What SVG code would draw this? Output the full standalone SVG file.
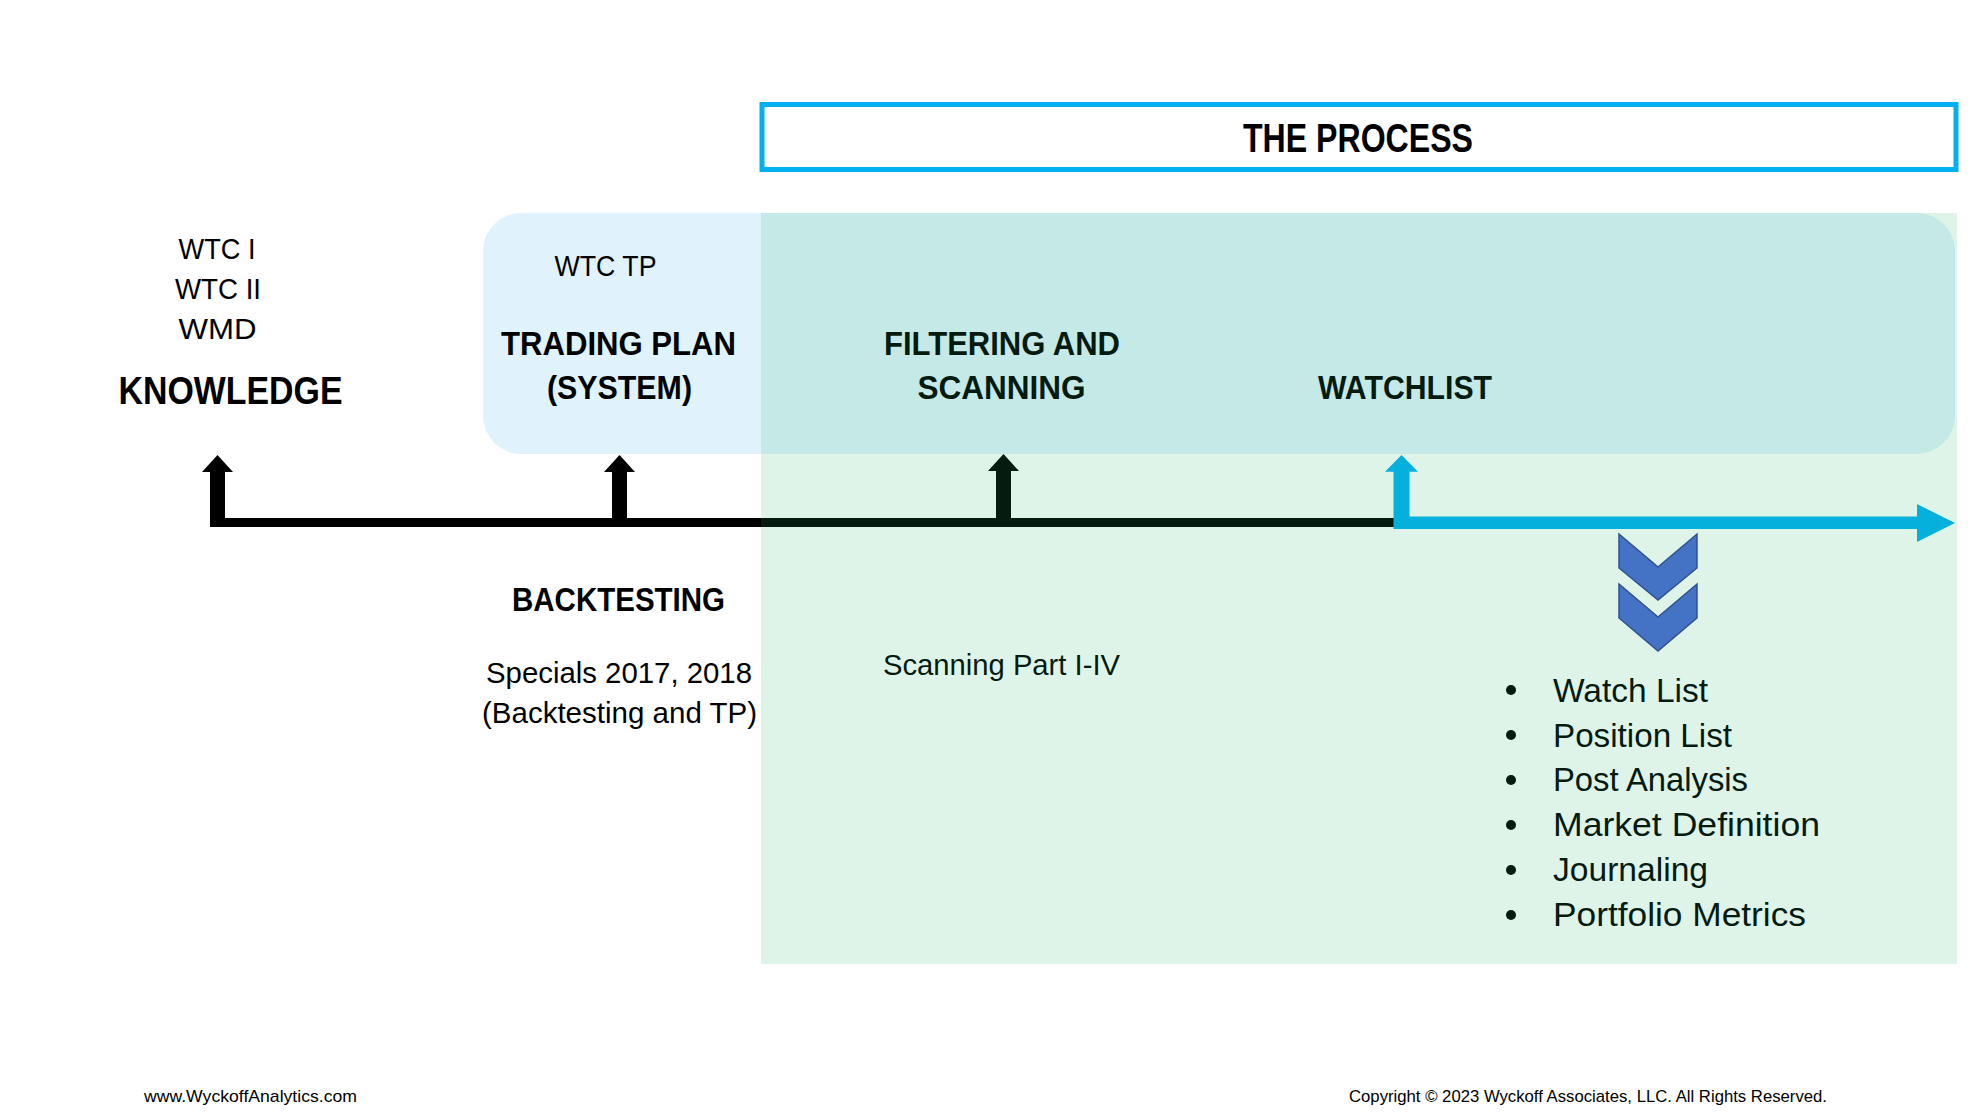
<svg xmlns="http://www.w3.org/2000/svg" width="1984" height="1117" viewBox="0 0 1984 1117">
<style>
text{font-family:"Liberation Sans",Arial,sans-serif;fill:#000}
.b{font-weight:bold}
.mid{text-anchor:middle}
.r28{font-size:30px}
.r29{font-size:30px}
.b33{font-size:34px}
.li{font-size:34px}
.ft{font-size:17px}
.blk{fill:#000}
.blue{fill:#00B0F0}
.chev{fill:#4472C4;stroke:#2F528F;stroke-width:1.5}
</style>
<rect x="0" y="0" width="1984" height="1117" fill="#fff"/>

<g id="process-header">
<rect x="762" y="104.5" width="1194" height="65" fill="#fff" stroke="#00B0F0" stroke-width="5"/>
<text class="b mid" x="1358" y="152" font-size="41" textLength="230" lengthAdjust="spacingAndGlyphs">THE PROCESS</text>
</g>

<g id="process-panel">
<rect x="483" y="213" width="1472" height="241" rx="38" ry="38" fill="#E0F3FC"/>
</g>

<g id="connectors">
<rect class="blk" x="210" y="518" width="1186" height="9"/>
<path class="blk" d="M210,527 V472 H202 L217.5,455 L233,472 H225 V527 Z"/>
<path class="blk" d="M612,527 V472 H604 L619.5,455 L635,472 H627 V527 Z"/>
<path class="blk" d="M996,527 V471 H988 L1003.5,454 L1019,471 H1011 V527 Z"/>
<path class="blue" d="M1393.5,529 V471.7 H1385 L1401.5,455 L1418,471.7 H1409.5 V516.5 H1917 V504 L1955,523 L1917,542 V529 Z"/>
</g>

<g id="knowledge">
<text class="r28 mid" x="217" y="259" textLength="77" lengthAdjust="spacingAndGlyphs">WTC I</text>
<text class="r28 mid" x="218" y="299" textLength="86" lengthAdjust="spacingAndGlyphs">WTC II</text>
<text class="r28 mid" x="217.5" y="339" textLength="78" lengthAdjust="spacingAndGlyphs">WMD</text>
<text class="b mid" x="230.5" y="404" font-size="38" textLength="224" lengthAdjust="spacingAndGlyphs">KNOWLEDGE</text>
</g>

<g id="trading-plan">
<text class="r28 mid" x="605.5" y="276" textLength="102" lengthAdjust="spacingAndGlyphs">WTC TP</text>
<text class="b b33 mid" x="618.5" y="355" textLength="235" lengthAdjust="spacingAndGlyphs">TRADING PLAN</text>
<text class="b b33 mid" x="619.5" y="399" textLength="145" lengthAdjust="spacingAndGlyphs">(SYSTEM)</text>
</g>

<g id="filtering-scanning">
<text class="b b33 mid" x="1002" y="355" textLength="236" lengthAdjust="spacingAndGlyphs">FILTERING AND</text>
<text class="b b33 mid" x="1001.5" y="399" textLength="168" lengthAdjust="spacingAndGlyphs">SCANNING</text>
</g>

<g id="watchlist">
<text class="b b33 mid" x="1405" y="399" textLength="174" lengthAdjust="spacingAndGlyphs">WATCHLIST</text>
</g>

<g id="backtesting">
<text class="b b33 mid" x="618.5" y="611" textLength="213" lengthAdjust="spacingAndGlyphs">BACKTESTING</text>
<text class="r29 mid" x="619" y="683" textLength="266" lengthAdjust="spacingAndGlyphs">Specials 2017, 2018</text>
<text class="r29 mid" x="619.5" y="723" textLength="275" lengthAdjust="spacingAndGlyphs">(Backtesting and TP)</text>
</g>

<g id="scanning-part">
<text class="r29" x="883" y="675" textLength="237" lengthAdjust="spacingAndGlyphs">Scanning Part I-IV</text>
</g>

<g id="process-list">
<circle cx="1511" cy="690" r="5"/>
<circle cx="1511" cy="735" r="5"/>
<circle cx="1511" cy="780" r="5"/>
<circle cx="1511" cy="825" r="5"/>
<circle cx="1511" cy="870" r="5"/>
<circle cx="1511" cy="915" r="5"/>
<text class="li" x="1553" y="702" textLength="155" lengthAdjust="spacingAndGlyphs">Watch List</text>
<text class="li" x="1553" y="747" textLength="179" lengthAdjust="spacingAndGlyphs">Position List</text>
<text class="li" x="1553" y="791" textLength="195" lengthAdjust="spacingAndGlyphs">Post Analysis</text>
<text class="li" x="1553" y="836" textLength="267" lengthAdjust="spacingAndGlyphs">Market Definition</text>
<text class="li" x="1553" y="881" textLength="155" lengthAdjust="spacingAndGlyphs">Journaling</text>
<text class="li" x="1553" y="926" textLength="253" lengthAdjust="spacingAndGlyphs">Portfolio Metrics</text>
</g>

<rect id="process-overlay" x="761" y="213" width="1196" height="751" fill="rgb(42,182,108)" fill-opacity="0.15"/>

<g id="chevrons">
<path class="chev" d="M1619,534 L1658,567 L1697,534 V568 L1658,600 L1619,568 Z"/>
<path class="chev" d="M1619,584 L1658,617 L1697,584 V618 L1658,651 L1619,618 Z"/>
</g>

<g id="footer">
<text class="ft" x="144" y="1102" textLength="213" lengthAdjust="spacingAndGlyphs">www.WyckoffAnalytics.com</text>
<text class="ft" x="1349" y="1102" textLength="478" lengthAdjust="spacingAndGlyphs">Copyright © 2023 Wyckoff Associates, LLC. All Rights Reserved.</text>
</g>
</svg>
